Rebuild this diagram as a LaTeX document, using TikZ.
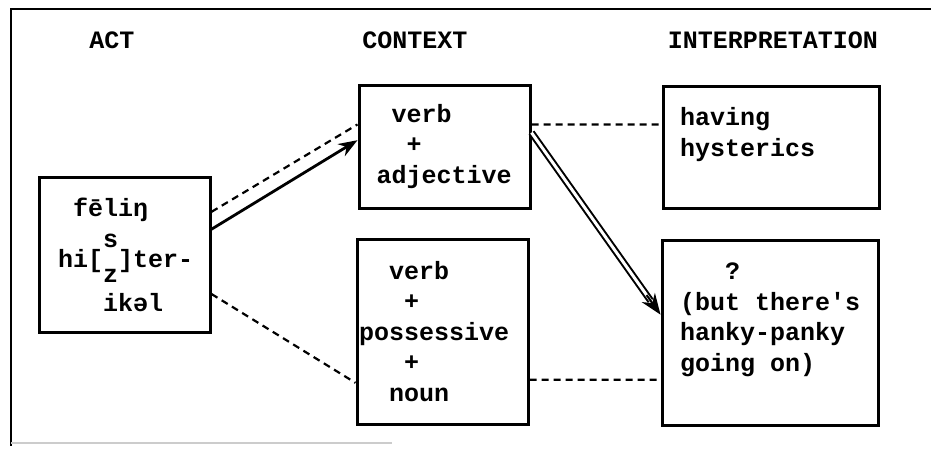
\documentclass[tikz,border=0pt]{standalone}
\usepackage{fontspec}
\setmainfont{Liberation Mono}
\usetikzlibrary{arrows.meta,calc}

\newcommand{\pd}{\hphantom{x}}

\begin{document}
\begin{tikzpicture}[x=1pt,y=-1pt,
  every node/.style={font=\fontsize{25}{30.5}\selectfont\bfseries, inner sep=0pt},
  wbox/.style={draw, line width=3pt, align=left},
  link/.style={line width=2.2pt, dash pattern=on 7pt off 5pt},
  tip/.style={-{Stealth[length=19pt,width=14pt]}, line width=2.8pt}]
  \useasboundingbox (0,0) rectangle (931,452);

  % frame
  \draw[line width=2.4pt] (931,9) -- (11,9) -- (11,446);
  \draw[gray!40, line width=1.5pt] (11,443) -- (392,443);

  % headings
  \node (hact) at (112,40) {ACT};
  \node (hctx) at (415,40) {CONTEXT};
  \node (hint) at (773,40) {INTERPRETATION};

  % boxes
  \node[wbox, minimum width=171pt, minimum height=155pt, text width=133pt] (act) at (124.5,254.5)
    {\pd fēliŋ\\[21pt]\mbox{hi[\smash{\rlap{\raisebox{20pt}{s}}\raisebox{-15pt}{z}}]ter-}\\[13pt]\pd\pd\pd ikəl};
  \node[wbox, minimum width=171pt, minimum height=123pt, text width=136pt] (ctxA) at (444.5,146.5)
    {\pd verb\\\pd\pd +\\adjective};
  \node[wbox, minimum width=171pt, minimum height=185pt, text width=167pt] (ctxB) at (442.5,331.5)
    {\pd\pd verb\\\pd\pd\pd +\\possessive\\\pd\pd\pd +\\\pd\pd noun};
  \node[wbox, minimum width=216pt, minimum height=122pt, text width=182pt] (intA) at (771,147)
    {having\\hysterics\\\mbox{}};
  \node[wbox, minimum width=216pt, minimum height=185pt, text width=180pt] (intB) at (770,332.5)
    {\pd\pd\pd ?\\(but\pd there\textquotesingle s\\hanky-panky\\going\pd on)\\\mbox{}};

  % act to context
  \draw[link] ($(act.north east)!0.23!(act.south east)$) -- ($(ctxA.north west)!0.325!(ctxA.south west)$);
  \draw[tip] ($(act.north east)!0.34!(act.south east)$) -- ($(ctxA.north west)!0.45!(ctxA.south west)$);
  \draw[link] ($(act.north east)!0.75!(act.south east)$) -- ($(ctxB.north west)!0.773!(ctxB.south west)$);

  % context to interpretation
  \draw[link] ($(ctxA.north east)!0.325!(ctxA.south east)$) -- ($(intA.north west)!0.32!(intA.south west)$);
  \draw[link] ($(ctxB.north east)!0.757!(ctxB.south east)$) -- ($(intB.north west)!0.751!(intB.south west)$);
  \coordinate (dStart) at ($(ctxA.north east)!0.39!(ctxA.south east)$);
  \coordinate (dEnd) at ($(intB.north west)!0.405!(intB.south west)$);
  \draw[line width=2pt, double, double distance=3pt, shorten >=17pt] (dStart) -- (dEnd);
  \draw[-{Stealth[length=21pt,width=16pt]}, line width=2pt] ($(dEnd)!24pt!(dStart)$) -- (dEnd);
\end{tikzpicture}
\end{document}
